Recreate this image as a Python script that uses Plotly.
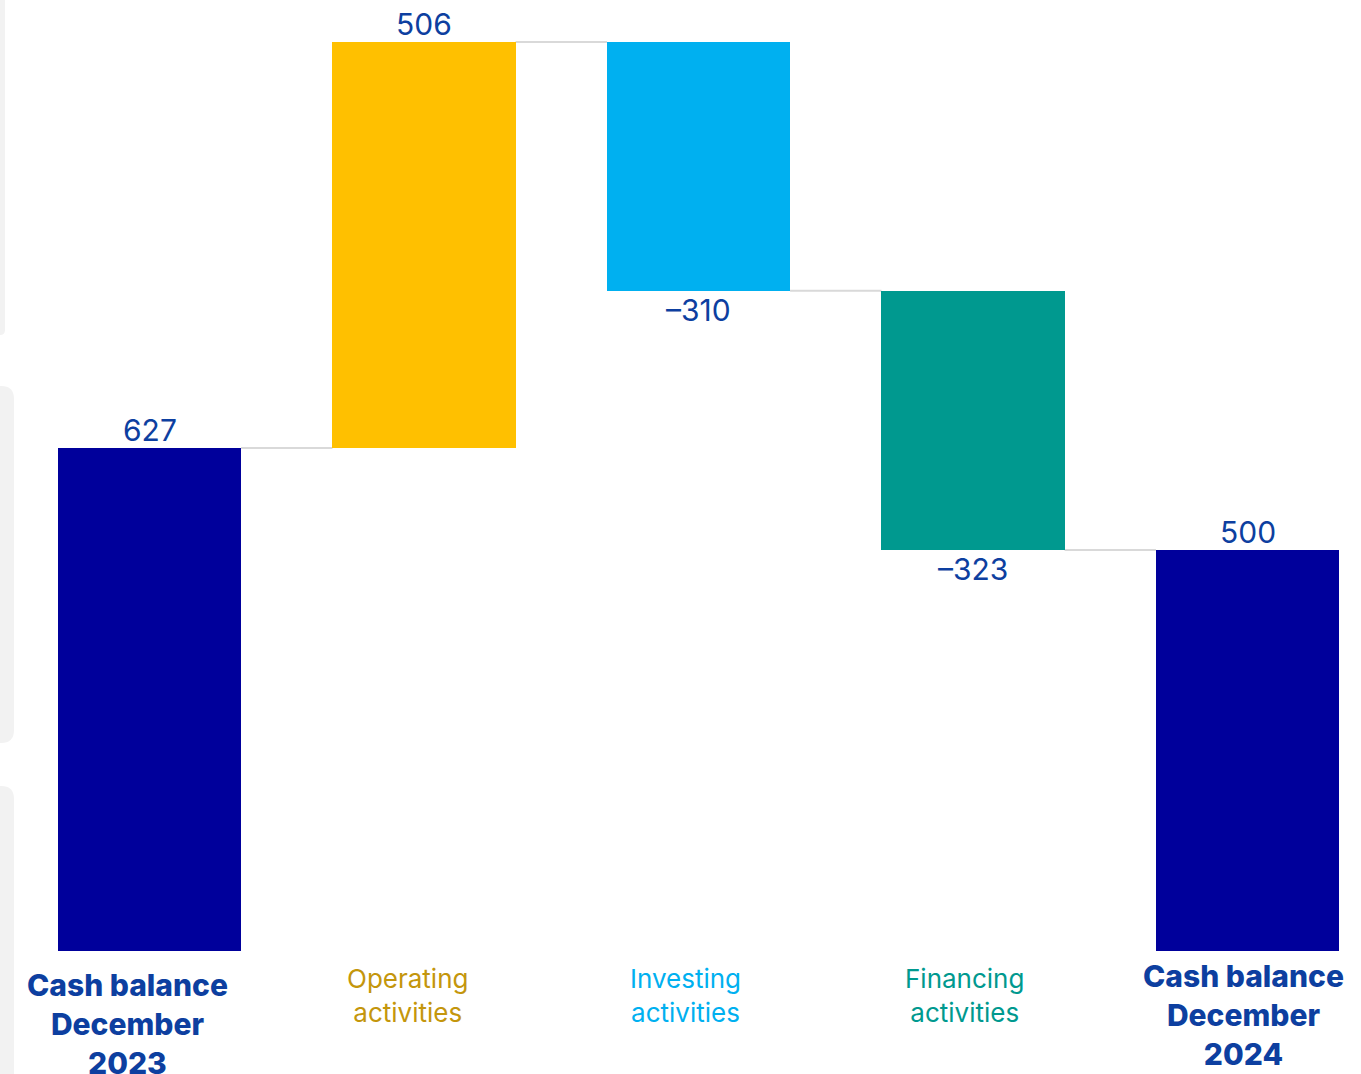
import plotly.graph_objects as go

# Cash flow bridge, December 2023 -> December 2024
categories = ["Cash balance December 2023", "Operating activities",
              "Investing activities", "Financing activities",
              "Cash balance December 2024"]
values = [627, 506, -310, -323, 500]
measures = ["absolute", "relative", "relative", "relative", "total"]
value_labels = ["627", "506", "–310", "–323", "500"]
axis_labels = ["Cash balance<br>December<br>2023",
               "Operating<br>activities",
               "Investing<br>activities",
               "Financing<br>activities",
               "Cash balance<br>December<br>2024"]
label_bold = [True, False, False, False, True]
bar_colors = ["#00009B", "#FFC000", "#00B0F0", "#00998F", "#00009B"]
label_colors = ["#0D3FA0", "#C4960C", "#00B0F0", "#00998F", "#0D3FA0"]

# bases / ends of each floating bar
bases, ends = [], []
running = 0
for v, m in zip(values, measures):
    if m == "absolute":
        b, e = 0, v
        running = v
    elif m == "total":
        b, e = 0, running
    else:
        b, e = running, running + v
        running += v
    bases.append(b)
    ends.append(e)

xs = list(range(len(categories)))
heights = [e - b for b, e in zip(bases, ends)]

fig = go.Figure()
fig.add_trace(go.Bar(
    x=xs, y=heights, base=bases, width=0.667,
    marker=dict(color=bar_colors, line=dict(width=0)),
    hoverinfo="skip", showlegend=False,
))

W = 0.667 / 2
shapes = []
# connectors between consecutive bars
for i in range(len(xs) - 1):
    level = ends[i]
    shapes.append(dict(type="line", xref="x", yref="y",
                       x0=xs[i] + W, x1=xs[i + 1] - W, y0=level, y1=level,
                       line=dict(color="#D9D9D9", width=2), layer="below"))

# decorative grey panels along the left edge (paper coords over plot height)
PH = 951.0
def py(px):
    return (PH - px) / PH

def panel(top, bottom, right, r, round_top):
    t, b = py(top), py(bottom)
    xr = right / 1361.0
    xr_in = (right - r) / 1361.0
    ry = r / PH
    x0 = -0.02
    if round_top:
        path = (f"M {x0},{t} L {xr_in},{t} Q {xr},{t} {xr},{t - ry} "
                f"L {xr},{b + ry} Q {xr},{b} {xr_in},{b} L {x0},{b} Z")
    else:
        path = (f"M {x0},{t} L {xr},{t} "
                f"L {xr},{b + ry} Q {xr},{b} {xr_in},{b} L {x0},{b} Z")
    return dict(type="path", xref="paper", yref="paper", path=path,
                fillcolor="#F2F2F2", line=dict(width=0), layer="below")

shapes.append(panel(-5, 335, 5, 5, False))
shapes.append(panel(386, 743, 14, 13, True))
shapes.append(panel(786, 1100, 14, 13, True))

annotations = []
value_font = dict(size=30, color="#0D3FA0", family="Inter")
# value labels: above the bar top for rises and totals, below the end for falls
for i, (v, e, b) in enumerate(zip(values, ends, bases)):
    if v >= 0 or measures[i] != "relative":
        annotations.append(dict(x=xs[i], y=max(e, b), xref="x", yref="y",
                                text=value_labels[i], showarrow=False,
                                yanchor="bottom", yshift=-2, font=value_font))
    else:
        annotations.append(dict(x=xs[i], y=e, xref="x", yref="y",
                                text=value_labels[i], showarrow=False,
                                yanchor="top", yshift=1, font=value_font))

# category labels under the bars
xshifts = [-22, -17, -13, -9, -4]
yshifts = [-14, -10, -10, -10, -5]
for i, t in enumerate(axis_labels):
    bold = label_bold[i]
    annotations.append(dict(x=xs[i], y=0, xref="x", yref="y", text=t,
                            showarrow=False, yanchor="top", align="center",
                            xshift=xshifts[i], yshift=yshifts[i],
                            font=dict(size=30 if bold else 26,
                                      color=label_colors[i],
                                      family="Inter",
                                      weight=800 if bold else 400)))

px_per_unit = 274.5
x0 = -149.5 / px_per_unit
x1 = x0 + 1361 / px_per_unit

fig.update_layout(
    width=1361, height=1074,
    margin=dict(l=0, r=0, t=0, b=123),
    paper_bgcolor="white", plot_bgcolor="rgba(0,0,0,0)",
    xaxis=dict(range=[x0, x1], visible=False, fixedrange=True),
    yaxis=dict(range=[0, 951 / 0.8022], visible=False, fixedrange=True),
    shapes=shapes, annotations=annotations,
    bargap=0,
)

fig.write_html("out.html", config={"displayModeBar": False})
